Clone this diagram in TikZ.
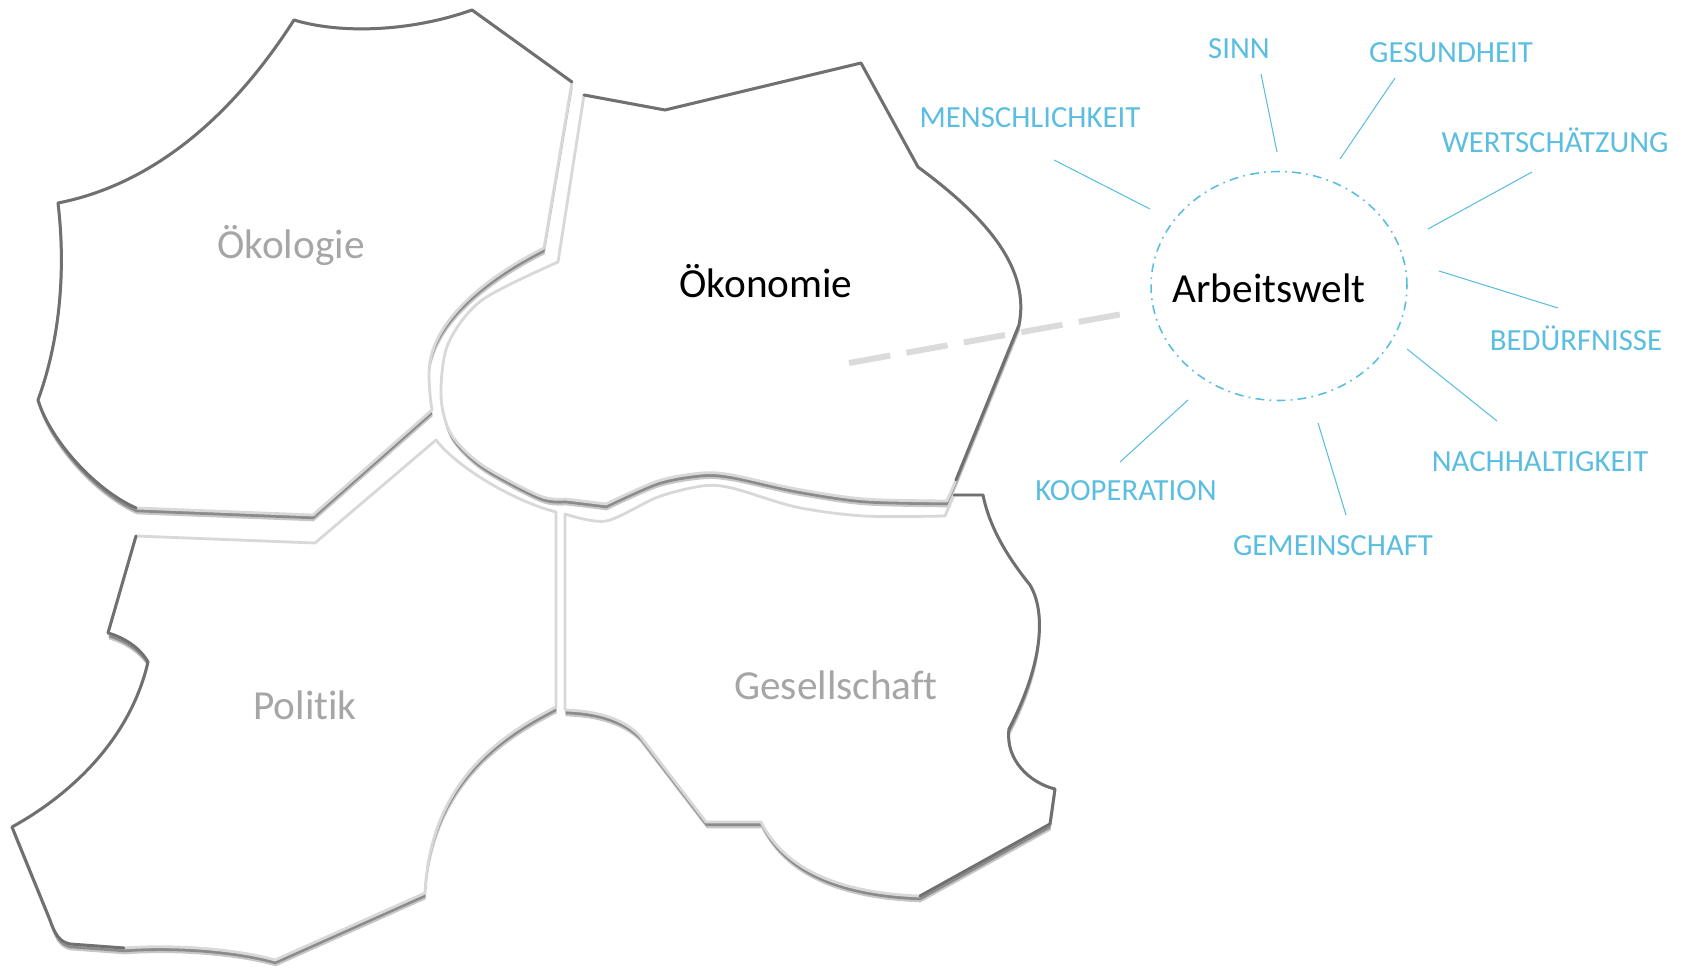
\documentclass[tikz,border=0pt]{standalone}
\usepackage{fontspec}
\setmainfont{Carlito}[Ligatures={NoCommon,NoContextual}]
\usetikzlibrary{shapes.geometric}

\definecolor{wordblue}{RGB}{91,190,225}
\definecolor{edgedark}{RGB}{112,112,112}
\definecolor{edgelight}{RGB}{216,216,216}
\definecolor{titlegray}{RGB}{166,166,166}

\begin{document}
\begin{tikzpicture}[x=0.02cm, y=-0.02cm]
\useasboundingbox (0,0) rectangle (1690,973);

% definitions
\tikzstyle{piece} = [fill=white, draw=edgelight, line width=1.6pt, line join=round,
  preaction={fill=black, opacity=0.22, transform canvas={xshift=0.4pt, yshift=-3.6pt}},
  preaction={fill=black, opacity=0.3, transform canvas={xshift=0.2pt, yshift=-2.4pt}}]

\tikzstyle{rim} = [draw=edgedark, line width=1.7pt, line join=round, line cap=round]

\tikzstyle{title} = [font=\fontsize{23.5}{28}\selectfont, text=titlegray, anchor=base, inner sep=0pt]

\tikzstyle{maintitle} = [title, text=black]

\tikzstyle{word} = [font=\fontsize{17.5}{21}\selectfont, text=wordblue, anchor=base, inner sep=0pt]

\tikzstyle{world} = [ellipse, draw=wordblue, line width=0.9pt, dash pattern=on 5pt off 3pt on 1pt off 3pt, minimum width=5.12cm, minimum height=4.58cm, inner sep=0pt]

\tikzstyle{ray} = [draw=wordblue, line width=0.6pt]

\tikzstyle{link} = [draw=black!14, line width=3.4pt, dash pattern=on 23.8pt off 9.4pt, shorten >=19pt]

% outer (dark) edges of the pieces
\def\rimoeko{(136,508) .. controls (95,490) and (50,440) .. (38,400)
  .. controls (60,340) and (66,270) .. (58,203)
  .. controls (150,185) and (230,120) .. (294,20)
  .. controls (340,34) and (410,32) .. (472,10) -- (572,82)}
\def\rimoekon{(584,95) -- (665,110) -- (861,63) -- (918,167)
  .. controls (990,220) and (1030,270) .. (1019,325) -- (956,480)}
\def\rimpol{(124,948) -- (70,944) .. controls (60,942) and (55,935) .. (50,920) -- (12,827)
  .. controls (70,795) and (130,740) .. (148,662)
  .. controls (140,648) and (125,638) .. (108,633) -- (136,536)}
\def\rimges{(954,495) -- (983,495) .. controls (990,530) and (1010,560) .. (1030,585)
  .. controls (1045,610) and (1045,660) .. (1009,729)
  .. controls (1005,760) and (1030,783) .. (1055,789) -- (1050,824) -- (920,896)}

% the pieces
\filldraw[piece] \rimoeko -- (544,248)
  .. controls (490,275) and (430,320) .. (429,372)
  .. controls (429,385) and (430,398) .. (432,410) -- (313,515) -- cycle;
\draw[rim] \rimoeko;

\filldraw[piece] \rimoekon -- (947,501)
  -- plot[smooth] coordinates {(947,501) (864,499) (796,489) (732,475) (702,473) (658,481) (606,504)}
  -- (565,499)
  -- plot[smooth] coordinates {(565,499) (540,496) (482,465) (451,434) (441,396) (448,344) (482,300) (558,262)}
  -- cycle;
\draw[rim] \rimoekon;

\filldraw[piece] \rimpol -- (315,543) -- (436,440)
  .. controls (455,465) and (510,500) .. (556,512) -- (556,707)
  .. controls (490,740) and (430,790) .. (425,893) -- (275,960)
  .. controls (240,950) and (180,944) .. (124,948) -- cycle;
\draw[rim] \rimpol;

\filldraw[piece] \rimges .. controls (840,893) and (785,870) .. (761,822) -- (706,822) -- (640,736)
  .. controls (625,720) and (600,711) .. (565,710) -- (565,514)
  -- plot[smooth] coordinates {(565,514) (606,521) (658,497) (702,486) (732,488) (796,507) (864,516) (945,516)}
  -- cycle;
\draw[rim] \rimges;

% titles
\node (t0) [title] at (291,258) {Ökologie};
\node (t1) [maintitle] at (766,297) {Ökonomie};
\node (t2) [title] at (305,719) {Politik};
\node (t3) [title] at (836,699) {Gesellschaft};

% Arbeitswelt
\node (c0) [world] at (1279,286) {};
\node (t4) [maintitle] at (1269,302) {Arbeitswelt};

\coordinate (d0) at (849,363);
\draw [link] (d0) -- (c0);

\node (w1) [word] at (1030,128) {MENSCHLICHKEIT};
\node (w2) [word] at (1239,59) {SINN};
\node (w3) [word] at (1451,63) {GESUNDHEIT};
\node (w4) [word] at (1555,153) {WERTSCHÄTZUNG};
\node (w5) [word] at (1576,350) {BEDÜRFNISSE};
\node (w6) [word] at (1540,471) {NACHHALTIGKEIT};
\node (w7) [word] at (1333,555) {GEMEINSCHAFT};
\node (w8) [word] at (1126,500) {KOOPERATION};

\coordinate (r1a) at (1054,160); \coordinate (r1b) at (1150,209);
\coordinate (r2a) at (1261,74);  \coordinate (r2b) at (1277,152);
\coordinate (r3a) at (1395,78);  \coordinate (r3b) at (1340,159);
\coordinate (r4a) at (1532,172); \coordinate (r4b) at (1428,229);
\coordinate (r5a) at (1558,308); \coordinate (r5b) at (1439,271);
\coordinate (r6a) at (1497,421); \coordinate (r6b) at (1407,349);
\coordinate (r7a) at (1346,515); \coordinate (r7b) at (1318,423);
\coordinate (r8a) at (1120,462); \coordinate (r8b) at (1188,400);

\draw [ray] (r1a) -- (r1b);
\draw [ray] (r2a) -- (r2b);
\draw [ray] (r3a) -- (r3b);
\draw [ray] (r4a) -- (r4b);
\draw [ray] (r5a) -- (r5b);
\draw [ray] (r6a) -- (r6b);
\draw [ray] (r7a) -- (r7b);
\draw [ray] (r8a) -- (r8b);

\end{tikzpicture}
\end{document}
